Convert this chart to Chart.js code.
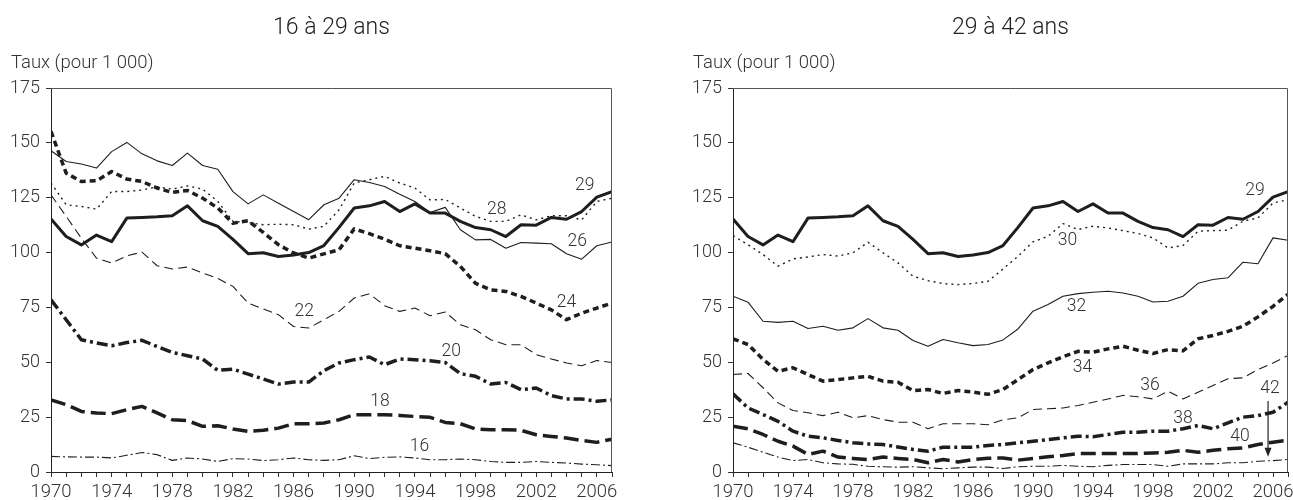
<!DOCTYPE html>
<html>
<head>
<meta charset="utf-8">
<script src="https://cdn.jsdelivr.net/npm/chart.js@4.4.1/dist/chart.umd.min.js"></script>
<style>
  body { margin: 0; background: #fff; }
  #wrap { position: relative; width: 1293px; height: 500px; }
  #left { position: absolute; left: 0; top: 0; }
  #right { position: absolute; left: 640px; top: 0; }
</style>
</head>
<body>
<div id="wrap">
  <canvas id="left" width="640" height="500"></canvas>
  <canvas id="right" width="653" height="500"></canvas>
</div>
<script>
// années 1970 à 2007
const annees = [];
for (let a = 1970; a <= 2007; a++) annees.push(a);

const ticksY = [0, 25, 50, 75, 100, 125, 150, 175];
const ticksX = [1970, 1974, 1978, 1982, 1986, 1990, 1994, 1998, 2002, 2006];

// 16 à 29 ans
const age29 = [115.3,107.3,103.5,108,105,115.7,116,116.3,116.8,121.3,
  114.5,111.9,106,99.5,99.9,98.2,98.9,100,103.2,111.5,
  120.3,121.3,123.3,118.7,122.2,118,118,114.2,111.4,110.4,
  107.3,112.7,112.5,116,115.2,118.7,125.3,127.8];
const age28 = [131.7,121.8,121,119.8,127.8,127.8,128.5,130,128.9,130.4,
  128.9,123.3,114.2,113.7,112.7,112.9,112.7,110.7,112,119.5,
  131.7,133.2,134.7,131.7,129.4,124,124.2,120.3,116.5,114.2,
  114.2,117.2,114.9,116.8,116.8,114.9,123.3,124.8];
const age26 = [146.4,141.5,140.4,138.5,146,150.2,145,141.8,139.7,145.3,
  139.7,138,127.8,122.2,126.3,122.5,118.7,115,121.8,124.8,
  133.2,131.9,130.1,126.6,123.3,118.3,120.6,110.4,105.8,106,
  102,104.6,104.3,104,99.5,97,103.1,104.8];
const age24 = [155.2,136.2,132.4,132.7,136.9,133.5,132.4,129.4,127.4,128.3,
  124.8,120.3,113.4,114.5,109.2,103.6,99.8,97.5,99.4,101.3,
  110.8,108.6,106.1,103.1,102,100.8,99.5,93.7,86,83,
  82.3,80,77,73.9,69.4,72.4,74.7,77];
const age22 = [126.3,116.5,106.6,97.5,95.2,98.5,100.2,94,92.5,93.4,
  90.7,88.2,84.6,77,74.3,71.7,66.3,65.6,69.4,73.2,
  79.3,81.2,75.8,73.2,74.7,71.2,72.9,67.1,64.8,60.3,
  58,58,53.5,51.5,49.7,48.4,50.8,49.9];
const age20 = [78.5,69.4,60.3,58.8,57.5,59,60,57.2,54.5,53,
  51.5,46.3,46.9,44.6,42.4,40.1,41,41,46.2,49.7,
  51.2,52.4,48.9,51.5,51.2,50.7,49.9,44.8,43.6,40.1,
  40.8,37.5,38.3,34.8,33.3,33.3,32.2,32.9];
const age18 = [32.9,30.7,27.6,26.9,26.6,28.4,29.9,26.9,23.8,23.4,
  20.8,21.1,19.6,18.5,19,20,22,22,22.3,23.8,
  26.1,26.1,26.1,25.8,25.3,24.9,22.6,22,19.6,19.3,
  19.3,19,17,16.2,15.5,14.4,13.5,15];
const age16 = [7.1,6.9,6.8,6.8,6.4,7.6,8.9,7.9,5.3,6.4,
  5.9,4.8,6.1,5.9,5.2,5.6,6.4,5.6,5.3,5.6,
  7.4,6.1,6.7,6.9,6.4,5.6,5.6,5.9,5.6,4.8,
  4.4,4.4,4.8,4.4,4.1,3.6,3.3,2.9];

// 29 à 42 ans
const age30 = [107.7,103.6,99.1,93.8,97.1,98,99.1,98.4,99.9,104.7,
  99.9,95.3,89.2,87.2,85.9,85.4,85.9,86.9,92.5,98.3,
  104.9,107.4,113.2,110.5,112,111.2,110,108.7,106.7,102.1,
  103.2,109.7,110,110.2,114.3,115.8,122.6,124.1];
const age32 = [80.1,77.4,68.7,68.2,68.7,65.4,66.4,64.6,65.7,69.9,
  65.7,64.6,59.9,57.3,60.4,58.9,57.6,58.1,60.2,65.2,
  73.3,76.3,80.1,81.3,81.9,82.4,81.6,80.1,77.5,77.8,
  80.1,86,87.7,88.5,95.6,94.9,106.7,105.6];
const age34 = [60.7,58.1,51.3,45.9,47.5,44.4,41.4,42.1,42.9,43.6,
  41.4,40.9,37.1,37.6,35.8,37.1,36.4,35.4,37.6,42.1,
  46.7,49.7,52.5,55,54.6,56.1,57.3,55.5,54,55.8,
  55.2,60.7,62.2,64.1,66.4,70.7,75.5,80.9];
const age36 = [44.4,44.9,38.4,31.5,28,27,25.7,27.2,24.7,25.7,
  23.9,22.7,22.7,19.7,22,22,22,21.5,23.8,24.7,
  28.5,28.8,29.2,30.3,31.8,33.3,34.9,34.3,33.3,36.8,
  33.3,36.4,39.4,42.5,42.9,46.7,49.7,53.1];
const age38 = [35.6,29.2,26.2,23.1,18.6,16.3,15.6,14.4,13.3,12.8,
  12.5,11.4,10.3,9.5,11.3,11.3,11.3,12.1,12.5,13.3,
  14,14.8,15.6,16.3,16.1,17.1,18.1,18.1,18.6,18.6,
  19.7,21.2,19.7,22.4,25,25.7,27.2,31.8];
const age40 = [20.9,19.7,17.1,14,11.8,8,9.5,6.8,6.2,5.7,
  6.8,6.2,5.7,4.2,5.7,4.6,5.7,6.3,6.4,5.4,
  6.2,6.9,7.5,8.4,8.4,8.4,8.4,8.4,8.7,9,
  9.9,9,9.9,10.6,11,12.5,13.6,14.5];
const age42 = [13.3,11.3,9,6.8,5.2,5.7,4.2,3.7,3.5,2.6,
  2.4,2.2,2.4,1.9,1.5,1.9,2.2,2.2,1.6,2.4,
  2.6,2.6,3,2.6,2.4,3,3.4,3.4,3.4,2.6,
  3.7,3.7,3.7,4.2,4.2,4.9,5.2,5.7];

// styles de trait, du plus âgé au plus jeune
const styles = [
  { width: 3, dash: [] },              // solide épais
  { width: 1.4, dash: [2, 4] },        // pointillé
  { width: 1.1, dash: [] },            // solide fin
  { width: 3.5, dash: [6, 4] },        // tirets courts épais
  { width: 1.1, dash: [9, 5] },        // tirets fins
  { width: 3.5, dash: [11, 4, 3, 4] }, // tiret-point épais
  { width: 3.5, dash: [15, 6] },       // tirets longs épais
  { width: 1.1, dash: [9, 3, 2, 3] }   // tiret-point fin
];

// étiquettes des courbes [texte, année, taux]
const etiquettesG = [['29', 2005.2, 130.4], ['28', 1999.4, 119.5], ['26', 2004.7, 105.1],
  ['24', 2004.0, 77.1], ['22', 1986.7, 73.0], ['20', 1996.4, 54.9],
  ['18', 1991.7, 32.2], ['16', 1994.3, 11.5]];
const etiquettesD = [['29', 2004.8, 128.4], ['30', 1992.3, 105.5], ['32', 1992.9, 75.3],
  ['34', 1993.3, 47.7], ['36', 1997.8, 39.4], ['38', 2000.0, 24.4],
  ['40', 2003.8, 15.9], ['42', 2005.8, 38.0]];

const police = 'Roboto, "Liberation Sans", Arial, sans-serif';
const gris = '#333';

function serie(valeurs, i) {
  return {
    data: annees.map((a, k) => ({ x: a, y: valeurs[k] })),
    borderColor: '#1e1e1e',
    borderWidth: styles[i].width,
    borderDash: styles[i].dash,
    borderJoinStyle: 'round',
    pointRadius: 0,
    tension: 0,
    fill: false
  };
}

const decor = {
  id: 'decor',
  afterDraw(chart, args, opts) {
    const { ctx, chartArea: a, scales: { x, y } } = chart;
    ctx.save();
    ctx.strokeStyle = '#555';
    ctx.lineWidth = 1;
    ctx.beginPath();
    ctx.moveTo(a.left, a.top + 0.5);
    ctx.lineTo(a.right - 0.5, a.top + 0.5);
    ctx.lineTo(a.right - 0.5, a.bottom);
    ctx.stroke();

    ctx.fillStyle = '#222';
    ctx.font = '300 23px ' + police;
    ctx.textAlign = 'center';
    ctx.textBaseline = 'alphabetic';
    ctx.fillText(opts.titre, (a.left + a.right) / 2, 34);

    ctx.font = '300 18.5px ' + police;
    ctx.textAlign = 'left';
    ctx.fillStyle = gris;
    ctx.fillText('Taux (pour 1 000)', a.left - 40, 68);

    ctx.font = '300 17.5px ' + police;
    ctx.textAlign = 'center';
    ctx.textBaseline = 'middle';
    opts.etiquettes.forEach(([t, ax, v]) => {
      ctx.fillText(t, x.getPixelForValue(ax), y.getPixelForValue(v));
    });

    if (opts.fleche) {
      const [ax, v1, v2] = opts.fleche;
      const px = x.getPixelForValue(ax);
      const y1 = y.getPixelForValue(v1), y2 = y.getPixelForValue(v2);
      ctx.strokeStyle = '#222';
      ctx.lineWidth = 1.2;
      ctx.beginPath();
      ctx.moveTo(px, y1);
      ctx.lineTo(px, y2 - 6);
      ctx.stroke();
      ctx.fillStyle = '#222';
      ctx.beginPath();
      ctx.moveTo(px, y2);
      ctx.lineTo(px - 3.5, y2 - 9);
      ctx.lineTo(px + 3.5, y2 - 9);
      ctx.closePath();
      ctx.fill();
    }
    ctx.restore();
  }
};

function options(padGauche, padDroite, titre, etiquettes, fleche) {
  return {
    responsive: false,
    animation: false,
    layout: { padding: { top: 88, left: padGauche, right: padDroite, bottom: 0 } },
    plugins: {
      legend: { display: false },
      tooltip: { enabled: false },
      decor: { titre: titre, etiquettes: etiquettes, fleche: fleche }
    },
    scales: {
      x: {
        type: 'linear',
        min: 1970,
        max: 2007,
        afterFit: s => { s.height = 28; },
        ticks: {
          stepSize: 1,
          autoSkip: false,
          maxRotation: 0,
          padding: 4,
          color: gris,
          font: { family: police, size: 18.5, weight: 300 },
          callback: v => ticksX.includes(v) ? String(v) : ''
        },
        grid: { drawOnChartArea: false, drawTicks: true, tickLength: 5, color: '#333' },
        border: { color: '#222', width: 1 }
      },
      y: {
        min: 0,
        max: 175,
        afterFit: s => { s.width = 51; },
        afterBuildTicks: s => { s.ticks = ticksY.map(v => ({ value: v })); },
        ticks: {
          padding: 6,
          color: gris,
          font: { family: police, size: 18, weight: 300 }
        },
        grid: { drawOnChartArea: false, drawTicks: true, tickLength: 5, color: '#333' },
        border: { color: '#222', width: 1 }
      }
    }
  };
}

new Chart(document.getElementById('left'), {
  type: 'line',
  data: {
    datasets: [age29, age28, age26, age24, age22, age20, age18, age16].map(serie)
  },
  options: options(0, 28, '16 à 29 ans', etiquettesG, null),
  plugins: [decor]
});

new Chart(document.getElementById('right'), {
  type: 'line',
  data: {
    datasets: [age29, age30, age32, age34, age36, age38, age40, age42].map(serie)
  },
  options: options(42, 5, '29 à 42 ans', etiquettesD, [2005.67, 32.3, 7.0]),
  plugins: [decor]
});
</script>
</body>
</html>
